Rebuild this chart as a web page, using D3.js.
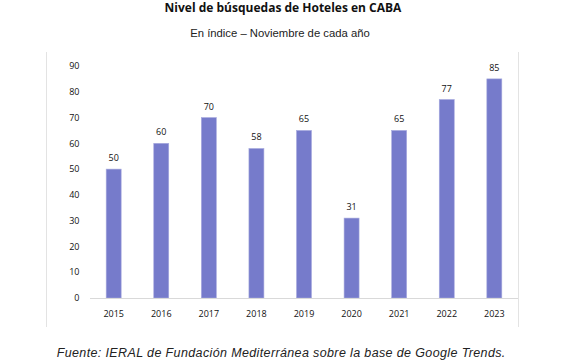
<!DOCTYPE html>
<html>
<head>
<meta charset="utf-8">
<script src="https://cdn.jsdelivr.net/npm/d3@7"></script>
<style>
  body { margin: 0; background: #fff; }
  svg { display: block; }
</style>
</head>
<body>
<script>
const years = ['2015', '2016', '2017', '2018', '2019', '2020', '2021', '2022', '2023']
const values = [50, 60, 70, 58, 65, 31, 65, 77, 85]
const yTicks = [0, 10, 20, 30, 40, 50, 60, 70, 80, 90]

const width = 567, height = 363
const svg = d3.select('body').append('svg')
  .attr('width', width).attr('height', height)

// title + subtitle
svg.append('text')
  .attr('x', 283).attr('y', 11.5)
  .attr('text-anchor', 'middle')
  .style('font', 'bold 12px "Open Sans", sans-serif')
  .attr('fill', '#111')
  .text('Nivel de búsquedas de Hoteles en CABA')
svg.append('text')
  .attr('x', 280).attr('y', 37)
  .attr('text-anchor', 'middle')
  .style('font', '11.3px "Liberation Sans", Arial, sans-serif')
  .attr('fill', '#222')
  .text('En índice – Noviembre de cada año')

// chart frame (only side lines are visible in the original)
svg.append('line').attr('x1', 46.5).attr('x2', 46.5).attr('y1', 52).attr('y2', 327)
  .attr('stroke', '#e3e3e3')
svg.append('line').attr('x1', 518.5).attr('x2', 518.5).attr('y1', 52).attr('y2', 327)
  .attr('stroke', '#e3e3e3')

const x = d3.scaleBand().domain(years).range([90, 518]).paddingInner(0.685).paddingOuter(0.34)
const y = d3.scaleLinear().domain([0, 90]).range([298, 66])

// y tick labels
svg.append('g')
  .selectAll('text')
  .data(yTicks)
  .join('text')
    .attr('x', 79.5)
    .attr('y', d => y(d) + 3.2)
    .attr('text-anchor', 'end')
    .style('font', '9px "Open Sans", sans-serif')
    .attr('fill', '#111')
    .text(d => d)

// bars
svg.append('g')
  .selectAll('rect')
  .data(values)
  .join('rect')
    .attr('x', (d, i) => x(years[i]))
    .attr('y', d => y(d))
    .attr('width', x.bandwidth())
    .attr('height', d => y(0) - y(d))
    .attr('fill', '#767bcb')
    .attr('stroke', '#a7aade')
    .attr('stroke-width', 0.6)

// baseline
svg.append('line')
  .attr('x1', 90).attr('x2', 518)
  .attr('y1', y(0) + 0.5).attr('y2', y(0) + 0.5)
  .attr('stroke', '#d9d9d9')

// value labels
svg.append('g')
  .selectAll('text')
  .data(values)
  .join('text')
    .attr('x', (d, i) => x(years[i]) + x.bandwidth() / 2)
    .attr('y', d => y(d) - 8)
    .attr('text-anchor', 'middle')
    .style('font', '9px "Open Sans", sans-serif')
    .attr('fill', '#111')
    .text(d => d)

// x labels
svg.append('g')
  .selectAll('text')
  .data(years)
  .join('text')
    .attr('x', d => x(d) + x.bandwidth() / 2)
    .attr('y', 316.5)
    .attr('text-anchor', 'middle')
    .style('font', '9px "Open Sans", sans-serif')
    .attr('fill', '#111')
    .text(d => d)

// source
svg.append('text')
  .attr('x', 281.2).attr('y', 357)
  .attr('text-anchor', 'middle')
  .style('font', 'italic 12.5px "Liberation Sans", Arial, sans-serif')
  .style('letter-spacing', '0.37px')
  .attr('fill', '#222')
  .text('Fuente: IERAL de Fundación Mediterránea sobre la base de Google Trends.')
</script>
</body>
</html>
